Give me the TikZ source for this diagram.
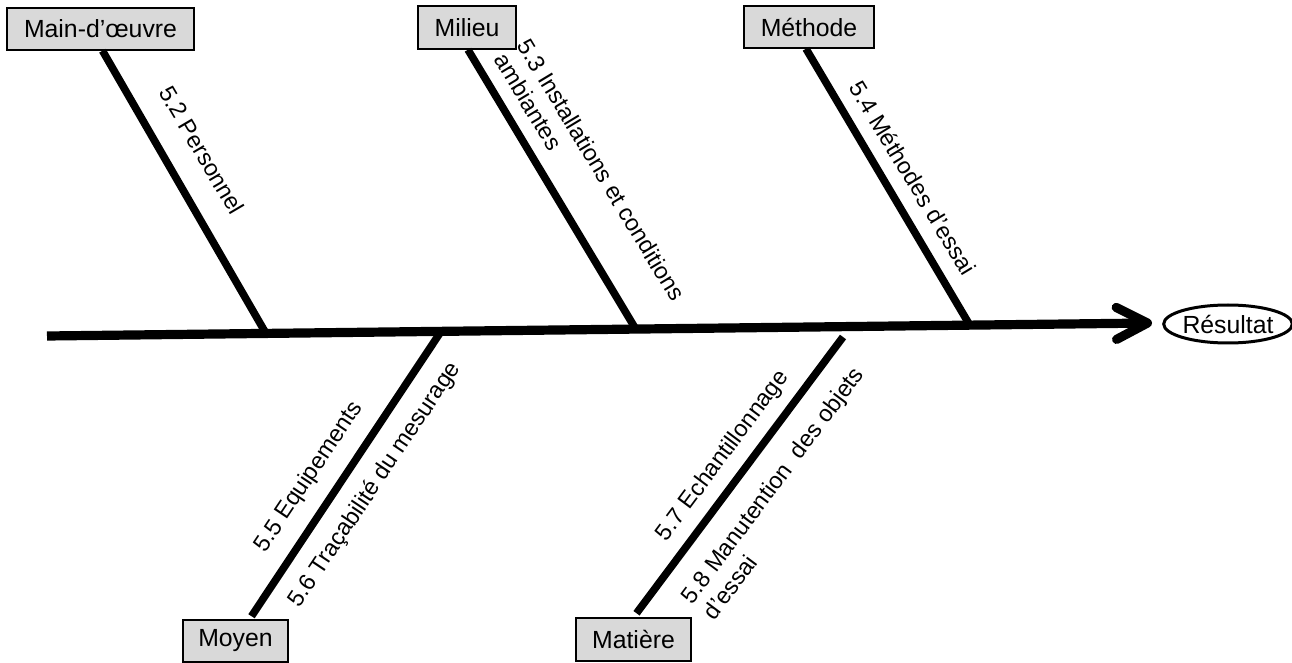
\documentclass[tikz,border=0pt]{standalone}
\usepackage{fontspec}
\setmainfont{Liberation Sans}
\usetikzlibrary{arrows.meta,shapes.geometric}
\tikzset{
  catbox/.style={draw=black, line width=0.75pt, fill=black!15, inner sep=0pt,
    font=\fontsize{12.4pt}{14pt}\selectfont},
  bone/.style={line width=3.8pt, line cap=butt},
  spine/.style={line width=4.6pt, -{Straight Barb[length=15.5pt,width=16pt,round]}},
  lab/.style={font=\fontsize{11.7pt}{13.6pt}\selectfont, inner sep=0pt, align=left},
  result/.style={ellipse, draw=black, line width=1.5pt, inner sep=0pt,
    font=\fontsize{12.4pt}{14pt}\selectfont}
}
\begin{document}
\begin{tikzpicture}[x=0.5pt,y=-0.5pt]
\path[use as bounding box] (0,0) rectangle (1292,663);
% category boxes
\node[catbox, minimum width=93.5pt, minimum height=21pt] (mo) at (100.5,29) {Main-d’œuvre};
\node[catbox, minimum width=49pt, minimum height=21.5pt] (mi) at (467,27.5) {Milieu};
\node[catbox, minimum width=65pt, minimum height=21pt] (me) at (809,27) {Méthode};
\node[catbox, minimum width=52.5pt, minimum height=21pt] (moy) at (235.5,641) {Moyen};
\node[catbox, minimum width=57.5pt, minimum height=21.5pt] (mat) at (633.5,639.5) {Matière};
\node[result, minimum width=62.5pt, minimum height=19pt] (res) at (1228,324) {Résultat};
% spine
\coordinate (s0) at (47,336);
\coordinate (s1) at (1152,323);
\coordinate (b1) at (266,333.5);
\coordinate (b2) at (636,329.5);
\coordinate (b3) at (970,325.5);
\coordinate (b4) at (441,331.5);
\coordinate (b5) at (843,337);
\draw[spine] (s0) -- (s1);
% bones
\draw[bone] ([xshift=1pt]mo.south) -- (b1);
\draw[bone] ([xshift=0.5pt]mi.south) -- (b2);
\draw[bone] ([xshift=-1.5pt]me.south) -- (b3);
\draw[bone] ([xshift=8pt,yshift=1.5pt]moy.north) -- (b4);
\draw[bone] ([xshift=1.5pt,yshift=2pt]mat.north) -- (b5);
% labels
\node[lab, rotate=-59.5] (l52) at (202,150) {5.2 Personnel};
\node[lab, rotate=-58.9] (l53) at (590,177) {5.3 Installations et conditions\\ambiantes};
\node[lab, rotate=-58.7] (l54) at (913,178) {5.4 Méthodes d’essai};
\node[lab, rotate=56.2] (l55) at (309,477) {5.5 Equipements};
\node[lab, rotate=56.2] (l56) at (375,485) {5.6 Traçabilité du mesurage};
\node[lab, rotate=53.3] (l57) at (723,456) {5.7 Echantillonnage};
\node[lab, rotate=53.3] (l58) at (783,493) {5.8 Manutention~ des objets\\d’essai};
\end{tikzpicture}
\end{document}
